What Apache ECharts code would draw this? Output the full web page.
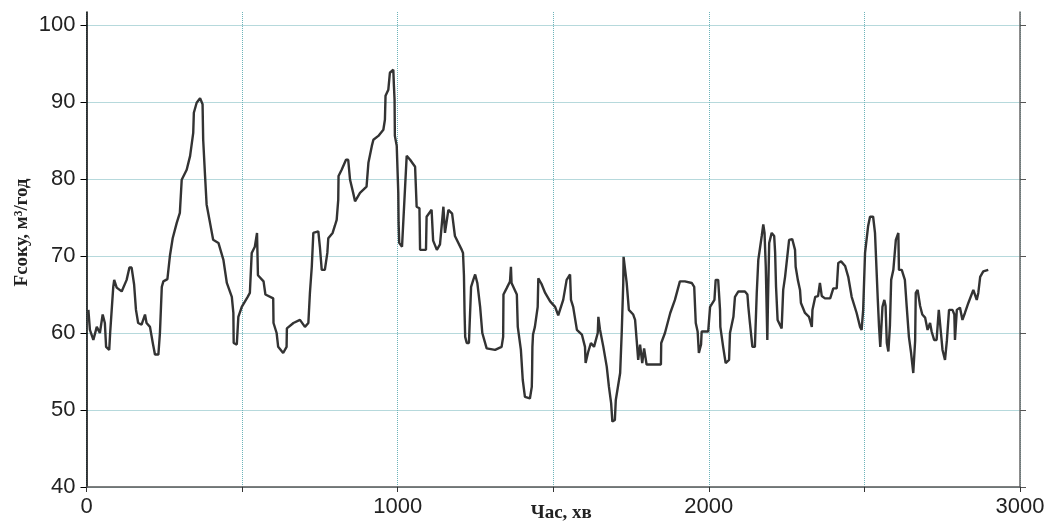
<!DOCTYPE html>
<html>
<head>
<meta charset="utf-8">
<script src="https://cdn.jsdelivr.net/npm/echarts@6/dist/echarts.min.js"></script>
<style>html,body{margin:0;padding:0;background:#fff}#c{width:1050px;height:522px}</style>
</head>
<body>
<div id="c"></div>
<script>
var timeMin = [6,11,22,33,43,52,59,63,73,76,81,86,89,97,113,129,138,145,153,159,166,177,188,193,204,213,220,231,236,242,247,260,268,277,290,300,306,322,333,343,345,354,365,373,375,381,386,397,407,424,440,451,467,472,473,483,488,499,518,525,531,541,548,551,569,575,600,601,611,616,632,643,644,665,686,702,713,718,724,729,745,750,756,766,774,777,791,798,804,809,810,820,834,841,847,857,863,879,900,906,917,922,938,954,959,961,970,975,986,988,990,991,997,1002,1003,1005,1014,1029,1040,1056,1061,1070,1072,1091,1093,1109,1114,1126,1136,1147,1152,1163,1175,1184,1206,1210,1213,1215,1217,1222,1229,1236,1243,1249,1256,1265,1272,1286,1313,1334,1339,1340,1350,1361,1364,1366,1383,1386,1396,1402,1409,1425,1431,1432,1433,1435,1441,1450,1452,1462,1474,1490,1506,1516,1532,1543,1554,1557,1564,1576,1592,1602,1604,1612,1621,1631,1643,1645,1650,1661,1672,1679,1686,1690,1698,1701,1715,1720,1725,1726,1731,1736,1743,1757,1763,1768,1773,1779,1786,1792,1800,1827,1846,1847,1859,1876,1891,1907,1923,1945,1953,1958,1964,1968,1975,1977,1998,2004,2018,2022,2030,2036,2037,2046,2054,2065,2068,2079,2084,2095,2116,2124,2127,2132,2140,2148,2154,2159,2170,2175,2179,2183,2188,2190,2194,2202,2210,2213,2216,2221,2234,2239,2245,2258,2268,2277,2279,2286,2293,2296,2309,2322,2331,2333,2342,2351,2357,2363,2373,2390,2400,2411,2416,2425,2438,2448,2459,2475,2486,2491,2496,2502,2512,2518,2528,2534,2543,2547,2551,2555,2558,2564,2568,2572,2577,2582,2586,2593,2601,2609,2611,2620,2630,2636,2643,2650,2657,2663,2665,2671,2679,2686,2695,2703,2711,2716,2724,2732,2739,2746,2751,2759,2765,2772,2783,2789,2791,2797,2807,2815,2823,2834,2850,2861,2866,2872,2882,2898];
var flowRate = [63,60.4,59.1,60.8,60,62.4,61.3,58.2,57.8,60,63,66,66.9,65.9,65.4,66.9,68.5,68.5,66.3,63,61.3,61.1,62.4,61.3,60.8,58.7,57.2,57.2,60,66,66.7,67,70,72.3,74.3,75.6,79.9,81.2,83,86,88.6,89.9,90.5,89.7,85.1,80.4,76.7,74.3,72.1,71.7,69.5,66.5,64.7,62.6,58.7,58.5,62.1,63.4,64.7,65.2,70.4,71.2,73,67.5,66.7,65,64.5,61.3,60,58.2,57.4,58.2,60.6,61.3,61.7,60.8,61.3,65.2,68.6,73,73.2,71.2,68.2,68.2,70.4,72.3,73,73.9,74.7,77.3,80.4,81.2,82.5,82.5,79.9,78.2,77.1,78.2,79,82.1,84.3,85.1,85.6,86.4,87.7,90.8,91.6,93.8,94.2,92.1,90.3,85.6,84.3,78.2,74.3,71.7,71.2,83,82.5,81.6,76.4,76.2,70.8,70.8,75.1,76,72,70.8,71.5,76.4,73,76,75.5,72.6,70.8,70.4,67.5,62.6,59.5,58.7,58.7,66,66.9,67.6,66.5,63.4,60,58,57.8,58.2,59.5,65,65.8,66.7,68.6,66.5,65,60.8,57.8,53.9,51.7,51.5,53,55,58.2,59.8,60.8,63.4,67.1,66.4,65.2,64.1,63.4,62.3,64.3,66.9,67.6,64.3,63.4,60.4,59.8,58.2,56.1,57.5,58.7,58.2,60,62.1,60.5,58.2,55.6,53,50.9,48.5,48.7,51.3,54.8,60,66.5,69.9,69.9,66.5,63,62.4,61.7,59.1,56.5,58.5,56.1,58,55.9,55.9,55.9,58.7,60,62.6,64.3,66.7,66.7,66.5,66,61.3,60.2,57.4,58.5,60.2,60.2,63.4,64.3,66.9,66.9,63,60.8,58.2,56.1,56.5,60,62.1,64.7,65.4,65.4,65,63.4,61.3,58.2,58.2,65.2,69.5,72.6,74.1,73,68.6,59.1,64,71.7,73,72.6,70.5,66,61.7,60.6,65.6,67.3,72.1,72.2,70.8,68.6,66.9,65.6,63.9,62.6,62.1,60.8,63,64.7,64.8,66.5,64.8,64.5,64.5,65.8,65.8,69.1,69.3,68.7,67.3,64.7,62.6,60.8,60.4,63,70.4,73.9,75.1,75.1,73,64.3,60.8,58.2,58.2,63.4,64.3,63.5,58.7,57.6,61,66.9,68.2,72.1,73,68.2,68.2,66.9,63.4,59.5,57.4,54.8,59,65.2,65.6,63.5,62.4,62,60.4,61.3,60.2,59.1,59.1,63,60,57.8,56.5,59,63,63,62.4,59.1,63,63.3,61.7,62.6,63.9,65.6,64.3,65.2,67.3,68,68.2];
var yTicks = [40,50,60,70,80,90,100];
var xName = 'Час, хв';
var yName = 'Fсоку, м³/год';

var chart = echarts.init(document.getElementById('c'), null, {renderer: 'canvas'});
var seriesData = timeMin.map(function (t, i) { return [t, flowRate[i]]; });
var gridLine = {show: true, lineStyle: {color: '#6db3b9', width: 1, type: [1, 1]}};
chart.setOption({
  animation: false,
  backgroundColor: '#fff',
  grid: {left: 86.5, right: 30, top: 12, bottom: 35, containLabel: false, outerBoundsMode: 'none'},
  xAxis: {
    type: 'value', min: 0, max: 3000, interval: 500,
    name: xName, nameLocation: 'middle', nameGap: 17, nameMoveOverlap: false,
    nameTextStyle: {fontFamily: 'Liberation Serif', fontWeight: 'bold', fontSize: 19, color: '#222', padding: [0, 0, 0, 16]},
    axisLine: {show: true, lineStyle: {color: '#555', width: 1.5}},
    axisTick: {show: true, inside: false, length: 5, lineStyle: {color: '#333'}},
    axisLabel: {
      fontFamily: 'Liberation Sans', fontSize: 22, color: '#222', margin: 9,
      formatter: function (v) { return v % 1000 === 0 ? String(v) : ''; }
    },
    splitLine: gridLine
  },
  yAxis: [{
    type: 'value', min: 40, max: 101.69,
    name: yName, nameLocation: 'middle', nameGap: 55, nameRotate: 90, nameMoveOverlap: false,
    nameTextStyle: {fontFamily: 'Liberation Serif', fontWeight: 'bold', fontSize: 19, color: '#222', padding: [0, 0, 0, 34]},
    axisLine: {show: true, lineStyle: {color: '#000', width: 1.5}},
    axisTick: {show: true, inside: false, length: 6, customValues: yTicks, lineStyle: {color: '#000'}},
    axisLabel: {fontFamily: 'Liberation Sans', fontSize: 22, color: '#222', margin: 11, customValues: yTicks},
    splitLine: gridLine
  }, {
    type: 'value', min: 40, max: 101.69, position: 'right',
    axisLine: {show: true, lineStyle: {color: '#666', width: 1.5}},
    axisTick: {show: true, inside: false, length: 6, customValues: yTicks, lineStyle: {color: '#555'}},
    axisLabel: {show: false},
    splitLine: {show: false}
  }],
  series: [{
    type: 'line',
    data: seriesData,
    showSymbol: false,
    lineStyle: {color: '#333', width: 2.4},
    z: 5
  }]
});
</script>
</body>
</html>
